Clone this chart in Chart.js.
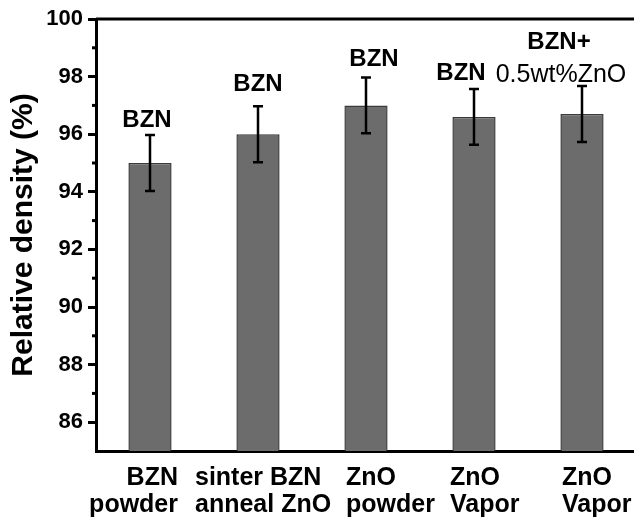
<!DOCTYPE html>
<html>
<head>
<meta charset="utf-8">
<script src="https://cdn.jsdelivr.net/npm/chart.js@4.4.1/dist/chart.umd.min.js"></script>
<style>
  html, body { margin: 0; padding: 0; background: #fff; overflow: hidden; }
</style>
</head>
<body>
<canvas id="bar-chart" width="640" height="517"></canvas>
<script>
// values
const categories = ["BZN powder", "sinter BZN anneal ZnO", "ZnO powder", "ZnO Vapor", "BZN+0.5wt%ZnO Vapor"];
const xLabels = [["BZN", "powder"], ["sinter BZN", "anneal ZnO"], ["ZnO", "powder"], ["ZnO", "Vapor"], ["ZnO", "Vapor"]];
const barLabels = [["BZN"], ["BZN"], ["BZN"], ["BZN"], ["BZN+", "0.5wt%ZnO"]];
const density = [95.0, 96.0, 97.0, 96.6, 96.7];
const densityErr = [0.97, 0.97, 0.97, 0.97, 0.97];
const yTicks = [86, 88, 90, 92, 94, 96, 98, 100];

const FONT = "'Liberation Sans', Arial, sans-serif";

// label nudges (px), x relative to bar centre, y relative to error bar top
const barLabelDx = [-3, 0, 8, -13, -23];
const barLabelDy = [-8, -15, -11, -9, -4];
// x label anchors relative to bar centre
const xLabelAlign = ['right', 'left', 'left', 'left', 'left'];
const xLabelDx = [28, -63, -20, -24, -20];

const extras = {
    id: 'extras',
    afterDatasetsDraw(chart) {
        const ctx = chart.ctx;
        const y = chart.scales.y;
        const meta = chart.getDatasetMeta(0);
        ctx.save();

        // error bars
        ctx.strokeStyle = '#000';
        ctx.lineWidth = 2.5;
        meta.data.forEach((bar, i) => {
            const top = y.getPixelForValue(density[i] + densityErr[i]);
            const bot = y.getPixelForValue(density[i] - densityErr[i]);
            ctx.beginPath();
            ctx.moveTo(bar.x, top); ctx.lineTo(bar.x, bot);
            ctx.moveTo(bar.x - 5, top); ctx.lineTo(bar.x + 5, top);
            ctx.moveTo(bar.x - 5, bot); ctx.lineTo(bar.x + 5, bot);
            ctx.stroke();
        });

        // labels above bars
        ctx.fillStyle = '#000';
        ctx.textAlign = 'center';
        ctx.textBaseline = 'alphabetic';
        meta.data.forEach((bar, i) => {
            const top = y.getPixelForValue(density[i] + densityErr[i]);
            const lines = barLabels[i];
            const cx = bar.x + barLabelDx[i];
            let base = top + barLabelDy[i];
            for (let k = lines.length - 1; k >= 0; k--) {
                if (lines.length > 1 && k == 1) {
                    ctx.font = "25px " + FONT;
                    ctx.fillText(lines[k], cx + 2, base);
                } else {
                    ctx.font = "bold 24px " + FONT;
                    ctx.fillText(lines[k], cx, base);
                }
                base -= 33;
            }
        });
        ctx.restore();
    },
    afterDraw(chart) {
        const ctx = chart.ctx;
        const area = chart.chartArea;
        const y = chart.scales.y;
        const x = chart.scales.x;
        ctx.save();

        // top frame line
        ctx.strokeStyle = '#000';
        ctx.lineWidth = 3;
        ctx.beginPath();
        ctx.moveTo(area.left, area.top);
        ctx.lineTo(area.right + 2, area.top);
        ctx.stroke();

        // minor ticks
        ctx.lineWidth = 3;
        for (let v = y.min + 2; v < y.max; v += 2) {
            const py = y.getPixelForValue(v);
            ctx.beginPath();
            ctx.moveTo(area.left - 4, py);
            ctx.lineTo(area.left, py);
            ctx.stroke();
        }

        // two-line category labels
        ctx.fillStyle = '#000';
        ctx.font = "bold 25px " + FONT;
        ctx.textBaseline = 'alphabetic';
        xLabels.forEach((lines, i) => {
            const px = x.getPixelForValue(i) + xLabelDx[i];
            ctx.textAlign = xLabelAlign[i];
            ctx.fillText(lines[0], px, area.bottom + 34);
            ctx.fillText(lines[1], px, area.bottom + 61);
        });
        ctx.restore();
    }
};

new Chart(document.getElementById("bar-chart"), {
    type: 'bar',
    data: {
        labels: categories,
        datasets: [
            {
                label: "Relative density",
                data: density,
                backgroundColor: "#6c6c6c",
                borderColor: "#3a3a3a",
                borderWidth: 1.5,
                barPercentage: 0.4,
                categoryPercentage: 1.0
            }
        ]
    },
    options: {
        responsive: false,
        animation: false,
        layout: {padding: {top: 19, right: 4, left: 0, bottom: 0}},
        plugins: {
            legend: {display: false},
            tooltip: {enabled: false}
        },
        scales: {
            x: {
                grid: {display: false},
                border: {color: '#000', width: 3},
                ticks: {display: false},
                afterFit: (scale) => { scale.height = 66; }
            },
            y: {
                min: 85,
                max: 100,
                grid: {
                    drawOnChartArea: false,
                    tickLength: 8,
                    tickWidth: 3,
                    tickColor: (c) => (c.tick && yTicks.includes(c.tick.value)) ? '#000' : 'rgba(0,0,0,0)'
                },
                border: {color: '#000', width: 3},
                ticks: {
                    stepSize: 1,
                    autoSkip: false,
                    padding: 5,
                    color: '#000',
                    font: {family: FONT, size: 22, weight: 'bold'},
                    callback: (v) => yTicks.includes(v) ? v : ''
                },
                title: {
                    display: true,
                    text: 'Relative density (%)',
                    color: '#000',
                    font: {family: FONT, size: 30, weight: 'bold'},
                    padding: {top: 6, bottom: 0}
                },
                afterFit: (scale) => { scale.width = 96; }
            }
        }
    },
    plugins: [extras]
});
</script>
</body>
</html>
